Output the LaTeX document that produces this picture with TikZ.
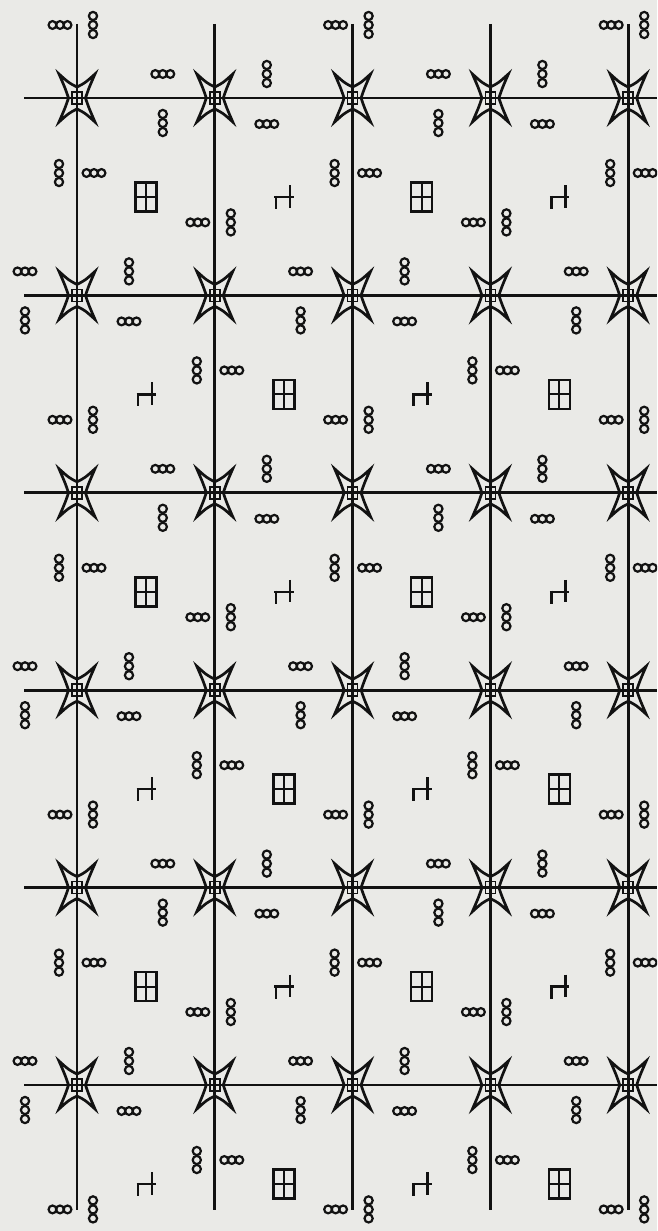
\documentclass[tikz,border=0pt]{standalone}
\usepackage{tikz}

\definecolor{paper}{RGB}{234,234,231}
\definecolor{ink}{RGB}{18,18,18}

\begin{document}
\begin{tikzpicture}[x=1pt, y=-1pt,
  gridln/.style={draw=ink, line width=2.8pt},
  starln/.style={draw=ink, line width=2.7pt, line join=miter, miter limit=25},
  glyph/.style={draw=ink, line width=2.2pt},
  ringh/.pic={\foreach \k in {-7.5,0,7.5} \draw[glyph] (\k,0) circle[radius=3.9pt];},
  ringv/.pic={\foreach \k in {-9,0,9} \draw[glyph] (0,\k) circle[radius=4.1pt];},
  boxglyph/.pic={
    \draw[glyph, line width=2.5pt] (-10.5,-14.5) rectangle (10.5,14.5);
    \draw[glyph, line width=2pt] (0,-14.5) -- (0,14.5) (-10.5,0) -- (10.5,0);},
  hookglyph/.pic={
    \draw[glyph, line width=2.5pt] (-9.5,0) -- (10,0) (-8,-1.2) -- (-8,12) (6,-12) -- (6,10.5);},
  starglyph/.pic={
    \draw[starln] (18,-24) .. controls (8,-15) .. (0,-11)
      .. controls (-8,-15) .. (-18,-24) .. controls (-11.5,-9) .. (-8.5,0)
      .. controls (-11.5,9) .. (-18,24) .. controls (-8,15) .. (0,11)
      .. controls (8,15) .. (18,24) .. controls (11.5,9) .. (8.5,0)
      .. controls (11.5,-9) .. (18,-24) -- cycle;
    \draw[glyph, line width=1.6pt] (-5,-6) rectangle (5,6);}]
\useasboundingbox (0,0) rectangle (657,1231);
\fill[paper] (0,0) rectangle (657,1231);
\clip (0,0) rectangle (657,1231);

% crossing points of the grid
\foreach \i in {0,...,4}
  \foreach \j in {0,...,6}
    \coordinate (s-\i-\j) at ({77+137.8*\i},{98+197.4*\j});

% line ends
\foreach \i in {0,...,4}{
  \coordinate (vt-\i) at ({77+137.8*\i},24);
  \coordinate (vb-\i) at ({77+137.8*\i},1210);
}
\foreach \j in {0,...,5}{
  \coordinate (hl-\j) at (24,{98+197.4*\j});
  \coordinate (hr-\j) at (657,{98+197.4*\j});
}

% grid
\foreach \i in {0,...,4} \draw[gridln] (vt-\i) -- (vb-\i);
\foreach \j in {0,...,5} \draw[gridln] (hl-\j) -- (hr-\j);

% stars
\foreach \i in {0,...,4}
  \foreach \j in {0,...,5}
    \pic at (s-\i-\j) {starglyph};

% rings round the stars
\foreach \i in {0,...,4}
  \foreach \j in {0,...,6}{
    \pgfmathtruncatemacro{\odd}{mod(\i+\j,2)}
    \ifnum\odd=0
      \pic[shift={(-17,-73)}] at (s-\i-\j) {ringh};
      \pic[shift={(16,-73)}] at (s-\i-\j) {ringv};
      \pic[shift={(-18,75)}] at (s-\i-\j) {ringv};
      \pic[shift={(17,75)}] at (s-\i-\j) {ringh};
    \else
      \pic[shift={(-52,-24)}] at (s-\i-\j) {ringh};
      \pic[shift={(-52,25)}] at (s-\i-\j) {ringv};
      \pic[shift={(52,-24)}] at (s-\i-\j) {ringv};
      \pic[shift={(52,26)}] at (s-\i-\j) {ringh};
    \fi
  }

% cell centres
\foreach \i in {0,...,3}
  \foreach \j in {0,...,5}{
    \pgfmathtruncatemacro{\odd}{mod(\i+\j,2)}
    \ifnum\odd=0
      \pic[shift={(69,99)}] at (s-\i-\j) {boxglyph};
    \else
      \pic[shift={(69,99)}] at (s-\i-\j) {hookglyph};
    \fi
  }
\end{tikzpicture}
\end{document}
